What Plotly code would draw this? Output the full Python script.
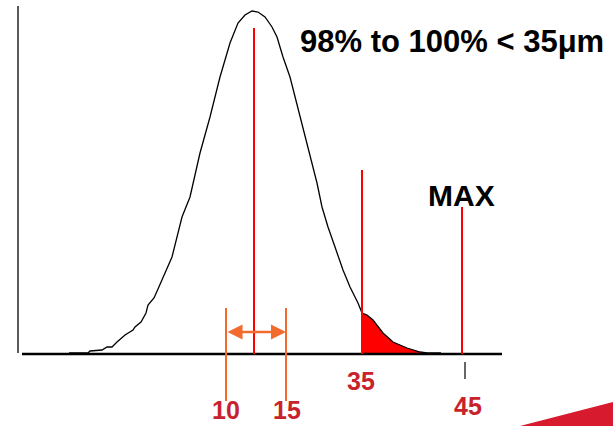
import plotly.graph_objects as go

# Schematic particle-size distribution (x = position along the size axis, y = relative frequency)
curve_x = [69, 88, 90, 102, 107, 112, 117, 125, 133, 135, 141, 146, 148, 154, 158, 172, 182, 190,
           200, 210, 220, 230, 238, 245, 252, 258, 265, 272, 277, 283, 290, 295, 300, 305, 312,
           317, 322, 328, 335, 343, 350, 358, 362, 367, 373, 383, 393, 407, 420, 427, 441]
curve_y = [1, 1, 3, 4, 7, 7, 12, 19, 24, 27, 32, 41, 49, 56, 65, 97, 137, 157,
           201, 237, 277, 311, 331, 339, 343, 342, 337, 327, 317, 297, 277, 257, 237, 217, 191,
           171, 147, 127, 107, 84, 67, 51, 41, 39, 34, 21, 12, 6, 2, 1, 1]

# Marker lines: positions and heights
median_x, median_h = 254, 326
limit_x, limit_h = 362, 184
max_x, max_h = 462, 147
span_x = [226, 286]           # 10 µm and 15 µm
span_top, span_bottom = 46, -47
arrow_y = 22
tick_x = 465

# Tick labels
label_text = ["10", "15", "35", "45"]
label_x = [226, 287, 361, 468]
label_y = [-72, -72, -27, -52]
label_anchor = ["bottom", "bottom", "middle", "middle"]

title_text = "98% to 100% < 35μm"
max_text = "MAX"

fig = go.Figure()

# red shaded tail (> 35)
tail_x = [x for x in curve_x if limit_x <= x <= 427]
tail_y = [y for x, y in zip(curve_x, curve_y) if limit_x <= x <= 427]
fig.add_trace(go.Scatter(x=[limit_x] + tail_x + [427], y=[0] + tail_y + [0], mode="lines",
                         fill="toself", fillcolor="#FF0000", line=dict(width=0, color="#FF0000"),
                         hoverinfo="skip"))

# axes lines
fig.add_trace(go.Scatter(x=[18, 18], y=[1, 348], mode="lines", line=dict(color="#222", width=1.5)))
fig.add_trace(go.Scatter(x=[22, 502], y=[0, 0], mode="lines", line=dict(color="#000", width=2.5)))

# distribution curve
fig.add_trace(go.Scatter(x=curve_x, y=curve_y, mode="lines", line=dict(color="#000", width=1.3)))

# red lines
for lx, lh in [(median_x, median_h), (limit_x, limit_h), (max_x, max_h)]:
    fig.add_trace(go.Scatter(x=[lx, lx], y=[0, lh], mode="lines", line=dict(color="#FF0000", width=2)))

# orange span lines
for sx in span_x:
    fig.add_trace(go.Scatter(x=[sx, sx], y=[span_bottom, span_top], mode="lines",
                             line=dict(color="#F26A2E", width=2)))

# small black tick under 45
fig.add_trace(go.Scatter(x=[tick_x, tick_x], y=[-8, -25], mode="lines", line=dict(color="#000", width=1.2)))

# red swoosh (bottom right)
fig.add_trace(go.Scatter(x=[520, 613, 613, 520], y=[-72, -48, -72, -72], mode="lines", fill="toself",
                         fillcolor="#D71A2E", line=dict(width=0, color="#D71A2E")))

# double arrow
fig.add_annotation(x=span_x[1], y=arrow_y, ax=span_x[0], ay=arrow_y, xref="x", yref="y",
                   axref="x", ayref="y", text="", showarrow=True, arrowside="end+start",
                   arrowhead=2, arrowsize=1.2, arrowwidth=2.5, arrowcolor="#F26A2E",
                   startarrowhead=2, startarrowsize=1.2)

for t, x, y, ya in zip(label_text, label_x, label_y, label_anchor):
    fig.add_annotation(x=x, y=y, text=t, showarrow=False, xanchor="center", yanchor=ya,
                       font=dict(family="Liberation Sans, Arial", size=25, color="#C8232C", weight="bold"))

fig.add_annotation(x=452, y=313, text=title_text, showarrow=False, xanchor="center", yanchor="middle",
                   font=dict(family="Liberation Sans, Arial", size=31, color="#000", weight="bold"))
fig.add_annotation(x=461.5, y=159, text=max_text, showarrow=False, xanchor="center", yanchor="middle",
                   font=dict(family="Liberation Sans, Arial", size=30, color="#000", weight="bold"))

fig.update_layout(width=613, height=426, margin=dict(l=0, r=0, t=0, b=0),
                  paper_bgcolor="white", plot_bgcolor="white", showlegend=False,
                  xaxis=dict(range=[0, 613], visible=False, fixedrange=True),
                  yaxis=dict(range=[-72, 354], visible=False, fixedrange=True))

fig.write_html("out.html", config={"displayModeBar": False},
               post_script="document.body.style.margin='0';document.body.style.overflow='hidden';")
